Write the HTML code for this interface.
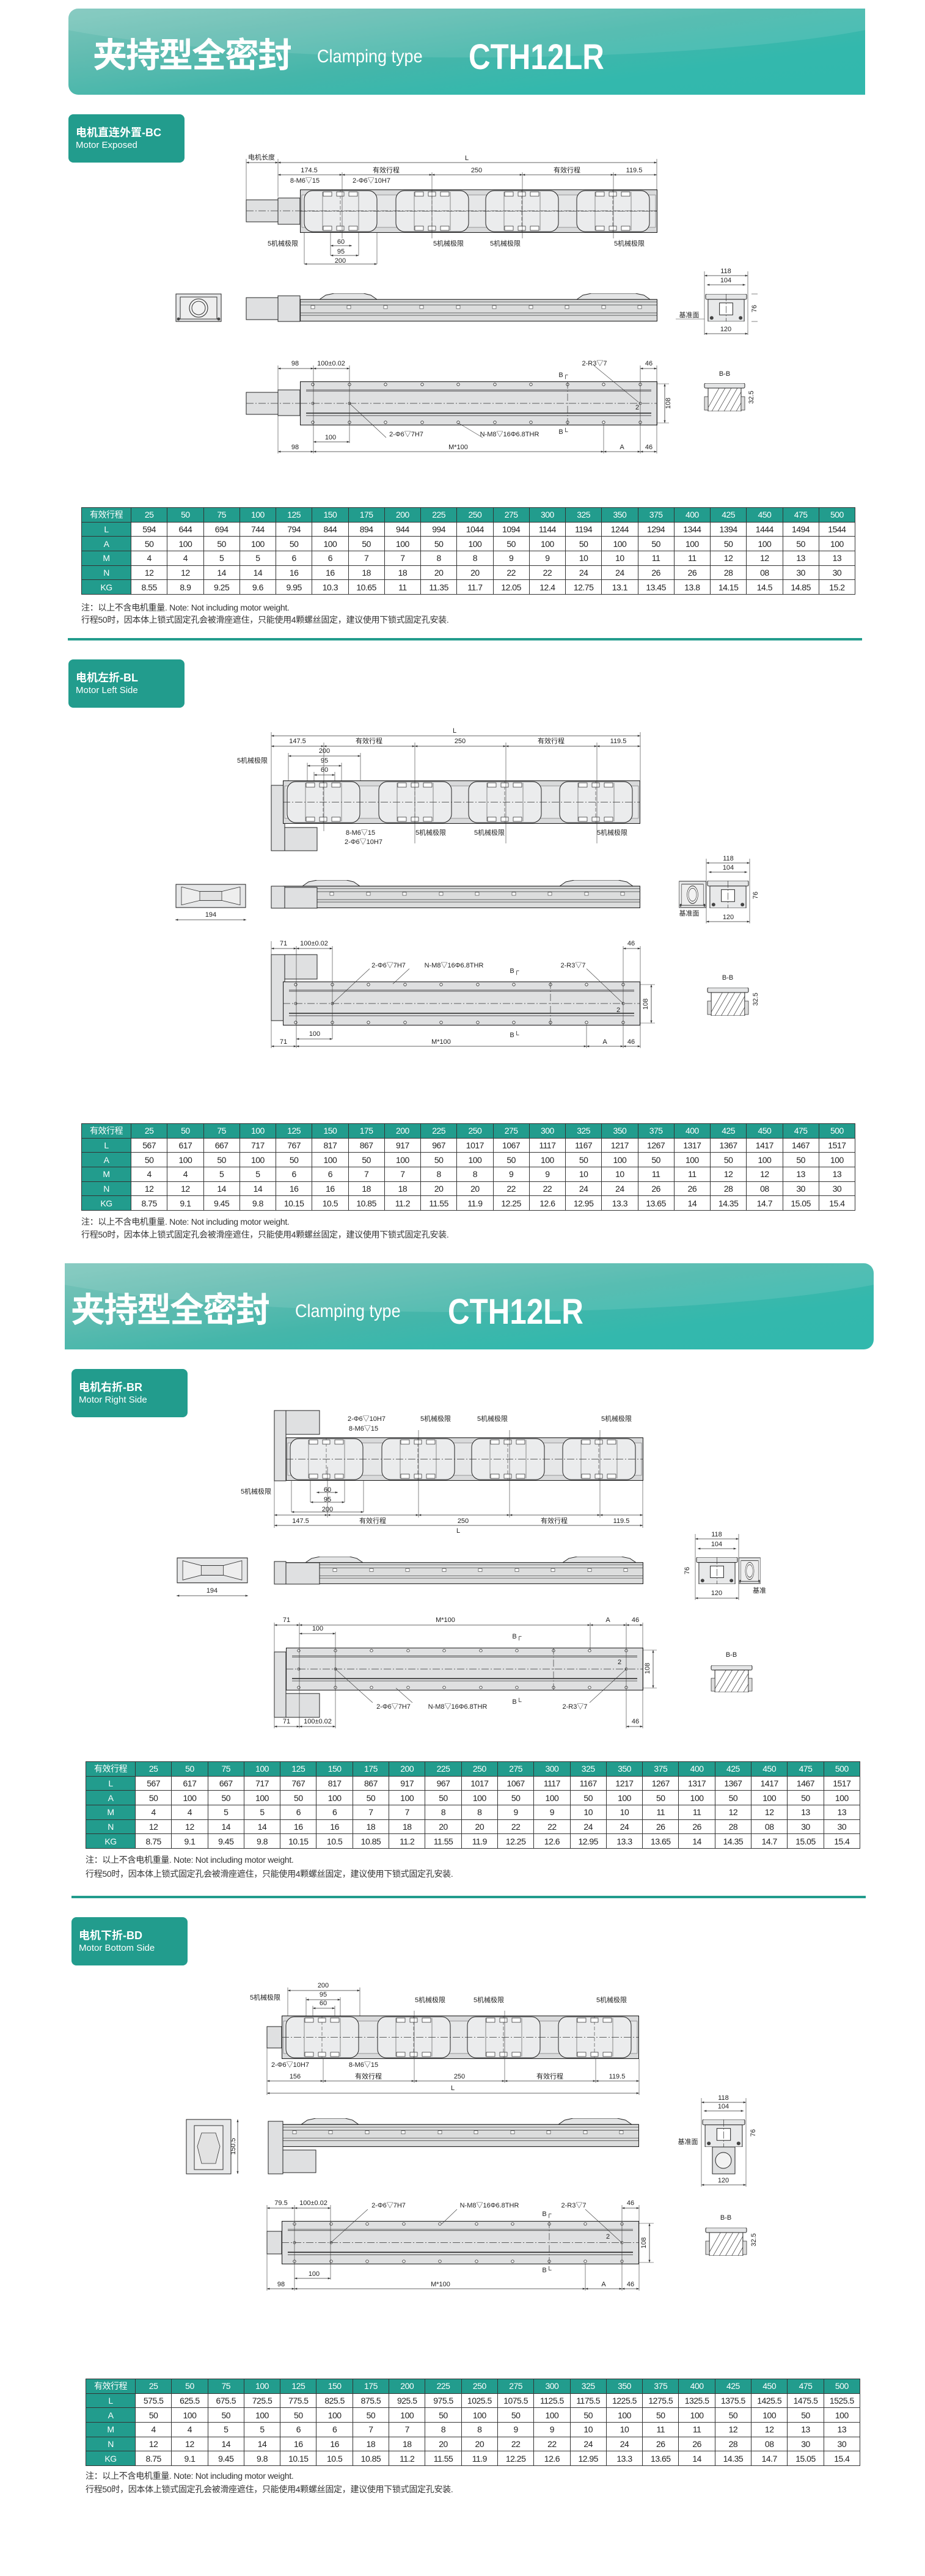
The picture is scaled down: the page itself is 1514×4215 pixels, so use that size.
<!DOCTYPE html>
<html><head><meta charset="utf-8">
<style>
*{margin:0;padding:0;box-sizing:border-box}
body{width:1514px;height:4215px;background:#fff;position:relative;overflow:hidden;font-family:"Liberation Sans","Noto Sans CJK SC",sans-serif}
.hdr{position:absolute;height:141px;background:linear-gradient(172deg,#7cc6bb 0%,#62bcb1 25%,#45b6aa 50%,#33b8ad 75%,#32b8ad 100%);overflow:hidden}
.hdr .wave{position:absolute;left:-10%;top:-120px;width:120%;height:200px;border-radius:50%;background:rgba(255,255,255,.10)}
.hdr .cn{position:absolute;top:38px;font:bold 56px "Noto Sans CJK SC",sans-serif;color:#fff;letter-spacing:-2px;line-height:70px}
.hdr .en{position:absolute;top:62px;font:30px "Liberation Sans",sans-serif;color:#fff;transform:scaleX(.9);transform-origin:left}
.hdr .md{position:absolute;top:46px;font:bold 58px "Liberation Sans",sans-serif;color:#fff;transform:scaleX(.85);transform-origin:left}
.lab{position:absolute;width:190px;height:79px;background:#229c8d;border-radius:8px;color:#fff}
.lab .a{position:absolute;left:12px;top:16px;font:bold 18px "Liberation Sans","Noto Sans CJK SC",sans-serif}
.lab .b{position:absolute;left:12px;top:42px;font:15px "Liberation Sans",sans-serif}
table{position:absolute;border-collapse:collapse;table-layout:fixed}
td{border:1px solid #333;text-align:center;font:14px "Liberation Sans","Noto Sans CJK SC",sans-serif;color:#222;height:23.7px;padding:0;letter-spacing:-.5px}
td.h{background:#229c8d;color:#fff}
tr:first-child td{background:#229c8d;color:#fff}
.note{position:absolute;font:14px "Liberation Sans","Noto Sans CJK SC",sans-serif;color:#333;white-space:nowrap;letter-spacing:-.3px}
.bar{position:absolute;height:4px;background:#229c8d}
svg{position:absolute;left:0;top:0}
.d{stroke:#333;stroke-width:.8;fill:none}
.e{stroke:#333;stroke-width:.6;fill:none}
.t{font:11px "Liberation Sans","Noto Sans CJK SC",sans-serif;fill:#222;text-anchor:middle}
.s{fill:#dfe0e1;stroke:#222;stroke-width:1}
.cl{stroke:#333;stroke-width:.7;stroke-dasharray:12 3 2 3;fill:none}
</style></head><body>

<div class="hdr" style="left:112px;top:14px;width:1304px;border-radius:16px 0 0 16px"><div class="wave"></div>
<div class="cn" style="left:40px">夹持型全密封</div><div class="en" style="left:407px">Clamping type</div><div class="md" style="left:655px">CTH12LR</div></div>

<div class="lab" style="left:112px;top:187px"><div class="a">电机直连外置-BC</div><div class="b">Motor Exposed</div></div>
<div class="lab" style="left:112px;top:1079px"><div class="a">电机左折-BL</div><div class="b">Motor Left Side</div></div>

<div class="hdr" style="left:106px;top:2067px;width:1324px;border-radius:0 16px 16px 0"><div class="wave"></div>
<div class="cn" style="left:10px">夹持型全密封</div><div class="en" style="left:377px">Clamping type</div><div class="md" style="left:627px">CTH12LR</div></div>

<div class="lab" style="left:117px;top:2240px"><div class="a">电机右折-BR</div><div class="b">Motor Right Side</div></div>
<div class="lab" style="left:117px;top:3137px"><div class="a">电机下折-BD</div><div class="b">Motor Bottom Side</div></div>

<div class="bar" style="left:111px;top:1044px;width:1300px"></div>
<div class="bar" style="left:117px;top:3102px;width:1300px"></div>

<!-- TABLES -->
<table style="left:133px;top:830px;width:1267px"><colgroup><col style="width:81px"><col span="20"></colgroup>
<tr><td>有效行程</td><td>25</td><td>50</td><td>75</td><td>100</td><td>125</td><td>150</td><td>175</td><td>200</td><td>225</td><td>250</td><td>275</td><td>300</td><td>325</td><td>350</td><td>375</td><td>400</td><td>425</td><td>450</td><td>475</td><td>500</td></tr>
<tr><td class="h">L</td><td>594</td><td>644</td><td>694</td><td>744</td><td>794</td><td>844</td><td>894</td><td>944</td><td>994</td><td>1044</td><td>1094</td><td>1144</td><td>1194</td><td>1244</td><td>1294</td><td>1344</td><td>1394</td><td>1444</td><td>1494</td><td>1544</td></tr>
<tr><td class="h">A</td><td>50</td><td>100</td><td>50</td><td>100</td><td>50</td><td>100</td><td>50</td><td>100</td><td>50</td><td>100</td><td>50</td><td>100</td><td>50</td><td>100</td><td>50</td><td>100</td><td>50</td><td>100</td><td>50</td><td>100</td></tr>
<tr><td class="h">M</td><td>4</td><td>4</td><td>5</td><td>5</td><td>6</td><td>6</td><td>7</td><td>7</td><td>8</td><td>8</td><td>9</td><td>9</td><td>10</td><td>10</td><td>11</td><td>11</td><td>12</td><td>12</td><td>13</td><td>13</td></tr>
<tr><td class="h">N</td><td>12</td><td>12</td><td>14</td><td>14</td><td>16</td><td>16</td><td>18</td><td>18</td><td>20</td><td>20</td><td>22</td><td>22</td><td>24</td><td>24</td><td>26</td><td>26</td><td>28</td><td>08</td><td>30</td><td>30</td></tr>
<tr><td class="h">KG</td><td>8.55</td><td>8.9</td><td>9.25</td><td>9.6</td><td>9.95</td><td>10.3</td><td>10.65</td><td>11</td><td>11.35</td><td>11.7</td><td>12.05</td><td>12.4</td><td>12.75</td><td>13.1</td><td>13.45</td><td>13.8</td><td>14.15</td><td>14.5</td><td>14.85</td><td>15.2</td></tr>
</table>
<div class="note" style="left:133px;top:984px">注：以上不含电机重量. Note: Not including motor weight.</div>
<div class="note" style="left:133px;top:1004px">行程50时，因本体上锁式固定孔会被滑座遮住，只能使用4颗螺丝固定，建议使用下锁式固定孔安装.</div>

<table style="left:133px;top:1838px;width:1267px"><colgroup><col style="width:81px"><col span="20"></colgroup>
<tr><td>有效行程</td><td>25</td><td>50</td><td>75</td><td>100</td><td>125</td><td>150</td><td>175</td><td>200</td><td>225</td><td>250</td><td>275</td><td>300</td><td>325</td><td>350</td><td>375</td><td>400</td><td>425</td><td>450</td><td>475</td><td>500</td></tr>
<tr><td class="h">L</td><td>567</td><td>617</td><td>667</td><td>717</td><td>767</td><td>817</td><td>867</td><td>917</td><td>967</td><td>1017</td><td>1067</td><td>1117</td><td>1167</td><td>1217</td><td>1267</td><td>1317</td><td>1367</td><td>1417</td><td>1467</td><td>1517</td></tr>
<tr><td class="h">A</td><td>50</td><td>100</td><td>50</td><td>100</td><td>50</td><td>100</td><td>50</td><td>100</td><td>50</td><td>100</td><td>50</td><td>100</td><td>50</td><td>100</td><td>50</td><td>100</td><td>50</td><td>100</td><td>50</td><td>100</td></tr>
<tr><td class="h">M</td><td>4</td><td>4</td><td>5</td><td>5</td><td>6</td><td>6</td><td>7</td><td>7</td><td>8</td><td>8</td><td>9</td><td>9</td><td>10</td><td>10</td><td>11</td><td>11</td><td>12</td><td>12</td><td>13</td><td>13</td></tr>
<tr><td class="h">N</td><td>12</td><td>12</td><td>14</td><td>14</td><td>16</td><td>16</td><td>18</td><td>18</td><td>20</td><td>20</td><td>22</td><td>22</td><td>24</td><td>24</td><td>26</td><td>26</td><td>28</td><td>08</td><td>30</td><td>30</td></tr>
<tr><td class="h">KG</td><td>8.75</td><td>9.1</td><td>9.45</td><td>9.8</td><td>10.15</td><td>10.5</td><td>10.85</td><td>11.2</td><td>11.55</td><td>11.9</td><td>12.25</td><td>12.6</td><td>12.95</td><td>13.3</td><td>13.65</td><td>14</td><td>14.35</td><td>14.7</td><td>15.05</td><td>15.4</td></tr>
</table>
<div class="note" style="left:133px;top:1989px">注：以上不含电机重量. Note: Not including motor weight.</div>
<div class="note" style="left:133px;top:2010px">行程50时，因本体上锁式固定孔会被滑座遮住，只能使用4颗螺丝固定，建议使用下锁式固定孔安装.</div>

<table style="left:140px;top:2882px;width:1268px"><colgroup><col style="width:81px"><col span="20"></colgroup>
<tr><td>有效行程</td><td>25</td><td>50</td><td>75</td><td>100</td><td>125</td><td>150</td><td>175</td><td>200</td><td>225</td><td>250</td><td>275</td><td>300</td><td>325</td><td>350</td><td>375</td><td>400</td><td>425</td><td>450</td><td>475</td><td>500</td></tr>
<tr><td class="h">L</td><td>567</td><td>617</td><td>667</td><td>717</td><td>767</td><td>817</td><td>867</td><td>917</td><td>967</td><td>1017</td><td>1067</td><td>1117</td><td>1167</td><td>1217</td><td>1267</td><td>1317</td><td>1367</td><td>1417</td><td>1467</td><td>1517</td></tr>
<tr><td class="h">A</td><td>50</td><td>100</td><td>50</td><td>100</td><td>50</td><td>100</td><td>50</td><td>100</td><td>50</td><td>100</td><td>50</td><td>100</td><td>50</td><td>100</td><td>50</td><td>100</td><td>50</td><td>100</td><td>50</td><td>100</td></tr>
<tr><td class="h">M</td><td>4</td><td>4</td><td>5</td><td>5</td><td>6</td><td>6</td><td>7</td><td>7</td><td>8</td><td>8</td><td>9</td><td>9</td><td>10</td><td>10</td><td>11</td><td>11</td><td>12</td><td>12</td><td>13</td><td>13</td></tr>
<tr><td class="h">N</td><td>12</td><td>12</td><td>14</td><td>14</td><td>16</td><td>16</td><td>18</td><td>18</td><td>20</td><td>20</td><td>22</td><td>22</td><td>24</td><td>24</td><td>26</td><td>26</td><td>28</td><td>08</td><td>30</td><td>30</td></tr>
<tr><td class="h">KG</td><td>8.75</td><td>9.1</td><td>9.45</td><td>9.8</td><td>10.15</td><td>10.5</td><td>10.85</td><td>11.2</td><td>11.55</td><td>11.9</td><td>12.25</td><td>12.6</td><td>12.95</td><td>13.3</td><td>13.65</td><td>14</td><td>14.35</td><td>14.7</td><td>15.05</td><td>15.4</td></tr>
</table>
<div class="note" style="left:140px;top:3033px">注：以上不含电机重量. Note: Not including motor weight.</div>
<div class="note" style="left:140px;top:3056px">行程50时，因本体上锁式固定孔会被滑座遮住，只能使用4颗螺丝固定，建议使用下锁式固定孔安装.</div>

<table style="left:140px;top:3892px;width:1268px"><colgroup><col style="width:81px"><col span="20"></colgroup>
<tr><td>有效行程</td><td>25</td><td>50</td><td>75</td><td>100</td><td>125</td><td>150</td><td>175</td><td>200</td><td>225</td><td>250</td><td>275</td><td>300</td><td>325</td><td>350</td><td>375</td><td>400</td><td>425</td><td>450</td><td>475</td><td>500</td></tr>
<tr><td class="h">L</td><td>575.5</td><td>625.5</td><td>675.5</td><td>725.5</td><td>775.5</td><td>825.5</td><td>875.5</td><td>925.5</td><td>975.5</td><td>1025.5</td><td>1075.5</td><td>1125.5</td><td>1175.5</td><td>1225.5</td><td>1275.5</td><td>1325.5</td><td>1375.5</td><td>1425.5</td><td>1475.5</td><td>1525.5</td></tr>
<tr><td class="h">A</td><td>50</td><td>100</td><td>50</td><td>100</td><td>50</td><td>100</td><td>50</td><td>100</td><td>50</td><td>100</td><td>50</td><td>100</td><td>50</td><td>100</td><td>50</td><td>100</td><td>50</td><td>100</td><td>50</td><td>100</td></tr>
<tr><td class="h">M</td><td>4</td><td>4</td><td>5</td><td>5</td><td>6</td><td>6</td><td>7</td><td>7</td><td>8</td><td>8</td><td>9</td><td>9</td><td>10</td><td>10</td><td>11</td><td>11</td><td>12</td><td>12</td><td>13</td><td>13</td></tr>
<tr><td class="h">N</td><td>12</td><td>12</td><td>14</td><td>14</td><td>16</td><td>16</td><td>18</td><td>18</td><td>20</td><td>20</td><td>22</td><td>22</td><td>24</td><td>24</td><td>26</td><td>26</td><td>28</td><td>08</td><td>30</td><td>30</td></tr>
<tr><td class="h">KG</td><td>8.75</td><td>9.1</td><td>9.45</td><td>9.8</td><td>10.15</td><td>10.5</td><td>10.85</td><td>11.2</td><td>11.55</td><td>11.9</td><td>12.25</td><td>12.6</td><td>12.95</td><td>13.3</td><td>13.65</td><td>14</td><td>14.35</td><td>14.7</td><td>15.05</td><td>15.4</td></tr>
</table>
<div class="note" style="left:140px;top:4041px">注：以上不含电机重量. Note: Not including motor weight.</div>
<div class="note" style="left:140px;top:4063px">行程50时，因本体上锁式固定孔会被滑座遮住，只能使用4颗螺丝固定，建议使用下锁式固定孔安装.</div>

<svg width="1514" height="4215" viewBox="0 0 1514 4215">
<defs>
<marker id="ar" viewBox="0 0 8 6" refX="8" refY="3" markerWidth="6" markerHeight="4" orient="auto-start-reverse"><path d="M0,0L8,3L0,6z" fill="#333"/></marker>
<symbol id="top" viewBox="0 0 585 71" preserveAspectRatio="none">
<rect x=".5" y=".5" width="584" height="70" fill="#d9dadb" stroke="#222" stroke-width="1.2"/>
<rect x="3" y="9" width="579" height="53" fill="#e6e7e8" stroke="#666" stroke-width=".6"/>
<g fill="#ebeced" stroke="#222" stroke-width="1">
<rect x="7" y="2" width="119" height="67" rx="14"/><rect x="157" y="2" width="119" height="67" rx="14"/><rect x="304" y="2" width="119" height="67" rx="14"/><rect x="453" y="2" width="119" height="67" rx="14"/></g>
<g stroke="#333" stroke-width=".6" stroke-dasharray="6 3">
<line x1="66" y1="0" x2="66" y2="71"/><line x1="216" y1="0" x2="216" y2="71"/><line x1="363" y1="0" x2="363" y2="71"/><line x1="512" y1="0" x2="512" y2="71"/></g>
<g stroke="#444" stroke-width=".6">
<line x1="37" y1="4" x2="37" y2="67"/><line x1="96" y1="4" x2="96" y2="67"/><line x1="187" y1="4" x2="187" y2="67"/><line x1="246" y1="4" x2="246" y2="67"/><line x1="334" y1="4" x2="334" y2="67"/><line x1="393" y1="4" x2="393" y2="67"/><line x1="483" y1="4" x2="483" y2="67"/><line x1="542" y1="4" x2="542" y2="67"/></g>
<g fill="#fff" stroke="#222" stroke-width=".7">
<rect x="38" y="4" width="14" height="7"/><rect x="60" y="4" width="12" height="7"/><rect x="80" y="4" width="14" height="7"/><rect x="38" y="60" width="14" height="7"/><rect x="60" y="60" width="12" height="7"/><rect x="80" y="60" width="14" height="7"/>
<rect x="188" y="4" width="14" height="7"/><rect x="210" y="4" width="12" height="7"/><rect x="230" y="4" width="14" height="7"/><rect x="188" y="60" width="14" height="7"/><rect x="210" y="60" width="12" height="7"/><rect x="230" y="60" width="14" height="7"/>
<rect x="335" y="4" width="14" height="7"/><rect x="357" y="4" width="12" height="7"/><rect x="377" y="4" width="14" height="7"/><rect x="335" y="60" width="14" height="7"/><rect x="357" y="60" width="12" height="7"/><rect x="377" y="60" width="14" height="7"/>
<rect x="484" y="4" width="14" height="7"/><rect x="506" y="4" width="12" height="7"/><rect x="526" y="4" width="14" height="7"/><rect x="484" y="60" width="14" height="7"/><rect x="506" y="60" width="12" height="7"/><rect x="526" y="60" width="14" height="7"/></g>
<line x1="0" y1="35.5" x2="585" y2="35.5" class="cl"/>
</symbol>
<symbol id="side" viewBox="0 0 585 46" preserveAspectRatio="none">
<polygon points="32,10 42,3 56,0 104,0 116,3 126,10" fill="#e4e5e6" stroke="#222"/>
<polygon points="453,10 463,3 477,0 549,0 563,3 573,10" fill="#e4e5e6" stroke="#222"/>
<rect x=".5" y="10" width="584" height="35.5" fill="#dcdddd" stroke="#222" stroke-width="1.2"/>
<g stroke="#333" stroke-width=".7"><line x1="0" y1="14" x2="585" y2="14"/><line x1="0" y1="19" x2="585" y2="19"/><line x1="0" y1="32" x2="585" y2="32"/><line x1="0" y1="36" x2="585" y2="36"/></g>
<g fill="#fff" stroke="#333" stroke-width=".6"><rect x="18" y="20" width="6" height="5"/><rect x="77" y="20" width="6" height="5"/><rect x="137" y="20" width="6" height="5"/><rect x="196" y="20" width="6" height="5"/><rect x="256" y="20" width="6" height="5"/><rect x="315" y="20" width="6" height="5"/><rect x="375" y="20" width="6" height="5"/><rect x="434" y="20" width="6" height="5"/><rect x="494" y="20" width="6" height="5"/><rect x="553" y="20" width="6" height="5"/></g>
</symbol>
<symbol id="bot" viewBox="0 0 585 72" preserveAspectRatio="none">
<rect x=".5" y=".5" width="584" height="71" fill="#dfe0e1" stroke="#222" stroke-width="1.2"/>
<g stroke="#222"><line x1="10" y1="14" x2="575" y2="14" stroke-width=".7"/><line x1="10" y1="16" x2="575" y2="16" stroke-width=".7"/><line x1="10" y1="52" x2="575" y2="52" stroke-width="1.6"/><line x1="10" y1="56" x2="575" y2="56" stroke-width=".7"/></g>
<g fill="#fff" stroke="#222" stroke-width=".8">
<circle cx="21" cy="5" r="2.2"/><circle cx="81" cy="5" r="2.2"/><circle cx="140" cy="5" r="2.2"/><circle cx="200" cy="5" r="2.2"/><circle cx="259" cy="5" r="2.2"/><circle cx="319" cy="5" r="2.2"/><circle cx="378" cy="5" r="2.2"/><circle cx="438" cy="5" r="2.2"/><circle cx="497" cy="5" r="2.2"/><circle cx="557" cy="5" r="2.2"/>
<circle cx="21" cy="67" r="2.2"/><circle cx="81" cy="67" r="2.2"/><circle cx="140" cy="67" r="2.2"/><circle cx="200" cy="67" r="2.2"/><circle cx="259" cy="67" r="2.2"/><circle cx="319" cy="67" r="2.2"/><circle cx="378" cy="67" r="2.2"/><circle cx="438" cy="67" r="2.2"/><circle cx="497" cy="67" r="2.2"/><circle cx="557" cy="67" r="2.2"/>
<circle cx="21" cy="36" r="2"/><circle cx="81" cy="36" r="2"/><circle cx="557" cy="36" r="2"/></g>
<line x1="0" y1="36" x2="585" y2="36" class="cl"/>
<line x1="438" y1="0" x2="438" y2="72" class="cl"/>
</symbol>
<symbol id="bb" viewBox="0 0 70 46" preserveAspectRatio="none">
<rect x="2" y="0" width="66" height="8" rx="2" fill="#e4e5e6" stroke="#222"/>
<rect x="8" y="8" width="54" height="38" fill="#fff" stroke="#222"/>
<g stroke="#333" stroke-width=".7"><line x1="8" y1="40" x2="26" y2="8"/><line x1="14" y1="46" x2="36" y2="8"/><line x1="24" y1="46" x2="46" y2="8"/><line x1="34" y1="46" x2="56" y2="8"/><line x1="44" y1="46" x2="62" y2="14"/><line x1="54" y1="46" x2="62" y2="32"/></g>
<rect x="2" y="22" width="6" height="22" fill="#ddd" stroke="#222" stroke-width=".7"/><rect x="62" y="22" width="6" height="22" fill="#ddd" stroke="#222" stroke-width=".7"/>
</symbol>
<symbol id="endv" viewBox="0 0 72 46" preserveAspectRatio="none">
<rect x="2" y="0" width="68" height="9" rx="2" fill="#e4e5e6" stroke="#222"/>
<rect x="6" y="9" width="60" height="37" fill="#e8e9ea" stroke="#222"/>
<rect x="25" y="15" width="22" height="20" fill="#fff" stroke="#222"/>
<line x1="36" y1="0" x2="36" y2="46" class="cl"/>
<circle cx="12" cy="40" r="3" fill="#444"/><circle cx="60" cy="40" r="3" fill="#444"/>
</symbol>
<symbol id="mend" viewBox="0 0 76 47" preserveAspectRatio="none">
<rect x="1" y="1" width="74" height="45" fill="#e6e7e8" stroke="#222"/>
<rect x="8" y="6" width="60" height="36" fill="#eee" stroke="#333"/>
<circle cx="38" cy="24" r="15" fill="#f2f2f2" stroke="#222"/><circle cx="38" cy="24" r="11" fill="none" stroke="#333"/>
<circle cx="5" cy="42" r="2.5" fill="#444"/><circle cx="71" cy="42" r="2.5" fill="#444"/>
</symbol>
<symbol id="fold" viewBox="0 0 116 38" preserveAspectRatio="none">
<rect x="1" y="1" width="114" height="36" fill="#e6e7e8" stroke="#222"/>
<polygon points="10,5 40,12 76,12 106,5 106,33 76,26 40,26 10,33" fill="#eee" stroke="#333" stroke-width=".8"/>
<rect x="40" y="12" width="36" height="14" fill="#e2e2e2" stroke="#333" stroke-width=".8"/>
</symbol>
</defs>

<!-- ================= BC ================= -->
<g>
<rect x="403" y="327" width="52" height="36" class="s"/><rect x="455" y="324" width="36" height="43" class="s"/>
<use href="#top" x="491" y="310" width="585" height="71"/>
<line x1="403" y1="345" x2="1075" y2="345" class="cl"/>
<g class="e"><line x1="403" y1="260" x2="403" y2="330"/><line x1="455" y1="260" x2="455" y2="322"/><line x1="1075" y1="260" x2="1075" y2="310"/>
<line x1="560" y1="282" x2="560" y2="390"/><line x1="707" y1="282" x2="707" y2="390"/><line x1="855" y1="282" x2="855" y2="390"/><line x1="1004" y1="282" x2="1004" y2="390"/>
<line x1="498" y1="381" x2="498" y2="432"/><line x1="617" y1="381" x2="617" y2="432"/><line x1="541" y1="381" x2="541" y2="418"/><line x1="587" y1="381" x2="587" y2="418"/></g>
<g class="d" marker-start="url(#ar)" marker-end="url(#ar)">
<line x1="403" y1="266" x2="455" y2="266"/><line x1="455" y1="266" x2="1075" y2="266"/>
<line x1="455" y1="286" x2="560" y2="286"/><line x1="560" y1="286" x2="707" y2="286"/><line x1="707" y1="286" x2="855" y2="286"/><line x1="855" y1="286" x2="1004" y2="286"/><line x1="1004" y1="286" x2="1075" y2="286"/>
<line x1="541" y1="402" x2="576" y2="402"/><line x1="541" y1="418" x2="587" y2="418"/><line x1="498" y1="432" x2="617" y2="432"/></g>
<text class="t" x="428" y="261">电机长度</text><text class="t" x="764" y="262">L</text>
<text class="t" x="506" y="282">174.5</text><text class="t" x="632" y="282">有效行程</text><text class="t" x="780" y="282">250</text><text class="t" x="928" y="282">有效行程</text><text class="t" x="1038" y="282">119.5</text>
<text class="t" x="499" y="299">8-M6▽15</text><text class="t" x="608" y="299">2-Φ6▽10H7</text>
<text class="t" x="463" y="402">5机械极限</text><text class="t" x="734" y="402">5机械极限</text><text class="t" x="827" y="402">5机械极限</text><text class="t" x="1030" y="402">5机械极限</text>
<text class="t" x="558" y="399">60</text><text class="t" x="558" y="415">95</text><text class="t" x="557" y="430">200</text>
<!-- side -->
<use href="#mend" x="287" y="480" width="76" height="47"/>
<rect x="403" y="487" width="52" height="36" class="s"/><rect x="455" y="484" width="36" height="42" class="s"/>
<use href="#side" x="491" y="480" width="585" height="46"/>
<use href="#endv" x="1153" y="481" width="71" height="45"/>
<g class="d" marker-start="url(#ar)" marker-end="url(#ar)"><line x1="1153" y1="451" x2="1224" y2="451"/><line x1="1157" y1="466" x2="1220" y2="466"/><line x1="1153" y1="546" x2="1224" y2="546"/></g>
<g class="e"><line x1="1153" y1="444" x2="1153" y2="548"/><line x1="1224" y1="444" x2="1224" y2="548"/><line x1="1230" y1="481" x2="1240" y2="481"/><line x1="1230" y1="526" x2="1240" y2="526"/><line x1="1106" y1="522" x2="1153" y2="522"/></g>
<text class="t" x="1188" y="447">118</text><text class="t" x="1188" y="462">104</text><text class="t" x="1188" y="542">120</text><text class="t" x="1128" y="519">基准面</text>
<text class="t" transform="translate(1238,505) rotate(-90)">76</text>
<!-- bottom -->
<rect x="403" y="642" width="52" height="36" class="s"/><rect x="455" y="638" width="36" height="42" class="s"/>
<use href="#bot" x="491" y="624" width="585" height="72"/>
<line x1="403" y1="660" x2="491" y2="660" class="cl"/>
<g class="e"><line x1="455" y1="598" x2="455" y2="742"/><line x1="513" y1="598" x2="513" y2="742"/><line x1="572" y1="598" x2="572" y2="725"/><line x1="1075" y1="598" x2="1075" y2="742"/><line x1="1048" y1="598" x2="1048" y2="742"/><line x1="988" y1="696" x2="988" y2="742"/>
<line x1="1075" y1="628" x2="1095" y2="628"/><line x1="1075" y1="692" x2="1095" y2="692"/>
<line x1="972" y1="598" x2="1045" y2="658"/><line x1="572" y1="660" x2="632" y2="716"/><line x1="750" y1="692" x2="790" y2="716"/></g>
<g class="d" marker-start="url(#ar)" marker-end="url(#ar)">
<line x1="455" y1="603" x2="513" y2="603"/><line x1="513" y1="603" x2="572" y2="603"/><line x1="1048" y1="603" x2="1075" y2="603"/>
<line x1="1088" y1="628" x2="1088" y2="692"/><line x1="513" y1="723" x2="572" y2="723"/>
<line x1="455" y1="739" x2="513" y2="739"/><line x1="513" y1="739" x2="988" y2="739"/><line x1="988" y1="739" x2="1048" y2="739"/><line x1="1048" y1="739" x2="1075" y2="739"/></g>
<text class="t" x="483" y="598">98</text><text class="t" x="542" y="598">100±0.02</text><text class="t" x="973" y="598">2-R3▽7</text><text class="t" x="1062" y="598">46</text>
<text class="t" x="922" y="617">B┌</text><text class="t" x="922" y="710">B└</text><text class="t" x="1043" y="670">2</text>
<text class="t" transform="translate(1097,660) rotate(-90)">108</text>
<text class="t" x="665" y="714">2-Φ6▽7H7</text><text class="t" x="834" y="714">N-M8▽16Φ6.8THR</text>
<text class="t" x="541" y="719">100</text>
<text class="t" x="483" y="735">98</text><text class="t" x="750" y="735">M*100</text><text class="t" x="1018" y="735">A</text><text class="t" x="1062" y="735">46</text>
<use href="#bb" x="1151" y="627" width="70" height="46"/><text class="t" x="1186" y="615">B-B</text>
<text class="t" transform="translate(1233,650) rotate(-90)">32.5</text>
</g>

<!-- ================= BL ================= -->
<g>
<rect x="444" y="1285" width="22" height="107" class="s"/><rect x="466" y="1354" width="53" height="38" class="s"/>
<use href="#top" x="463" y="1277" width="585" height="71"/>
<g class="e"><line x1="444" y1="1198" x2="444" y2="1285"/><line x1="1048" y1="1198" x2="1048" y2="1277"/>
<line x1="530" y1="1215" x2="530" y2="1360"/><line x1="679" y1="1215" x2="679" y2="1380"/><line x1="828" y1="1215" x2="828" y2="1380"/><line x1="977" y1="1215" x2="977" y2="1380"/>
<line x1="472" y1="1232" x2="472" y2="1277"/><line x1="590" y1="1232" x2="590" y2="1277"/><line x1="503" y1="1248" x2="503" y2="1277"/><line x1="559" y1="1248" x2="559" y2="1277"/><line x1="514" y1="1263" x2="514" y2="1277"/><line x1="548" y1="1263" x2="548" y2="1277"/></g>
<g class="d" marker-start="url(#ar)" marker-end="url(#ar)">
<line x1="444" y1="1204" x2="1048" y2="1204"/>
<line x1="444" y1="1221" x2="530" y2="1221"/><line x1="530" y1="1221" x2="679" y2="1221"/><line x1="679" y1="1221" x2="828" y2="1221"/><line x1="828" y1="1221" x2="977" y2="1221"/><line x1="977" y1="1221" x2="1048" y2="1221"/>
<line x1="472" y1="1237" x2="590" y2="1237"/><line x1="503" y1="1253" x2="559" y2="1253"/><line x1="514" y1="1268" x2="548" y2="1268"/></g>
<text class="t" x="744" y="1199">L</text>
<text class="t" x="487" y="1216">147.5</text><text class="t" x="604" y="1216">有效行程</text><text class="t" x="753" y="1216">250</text><text class="t" x="902" y="1216">有效行程</text><text class="t" x="1012" y="1216">119.5</text>
<text class="t" x="531" y="1232">200</text><text class="t" x="531" y="1248">95</text><text class="t" x="531" y="1263">60</text>
<text class="t" x="413" y="1248">5机械极限</text>
<text class="t" x="705" y="1366">5机械极限</text><text class="t" x="801" y="1366">5机械极限</text><text class="t" x="1002" y="1366">5机械极限</text>
<text class="t" x="590" y="1366">8-M6▽15</text><text class="t" x="595" y="1381">2-Φ6▽10H7</text>
<!-- side -->
<use href="#fold" x="287" y="1446" width="116" height="40"/>
<g class="d" marker-start="url(#ar)" marker-end="url(#ar)"><line x1="287" y1="1505" x2="403" y2="1505"/></g>
<text class="t" x="345" y="1500">194</text>
<use href="#side" x="463" y="1440" width="585" height="46"/>
<rect x="444" y="1450" width="22" height="36" class="s"/><rect x="466" y="1452" width="53" height="34" class="s"/>
<use href="#mend" x="1111" y="1441" width="45" height="45"/>
<use href="#endv" x="1156" y="1441" width="71" height="45"/>
<g class="d" marker-start="url(#ar)" marker-end="url(#ar)"><line x1="1156" y1="1412" x2="1227" y2="1412"/><line x1="1160" y1="1427" x2="1223" y2="1427"/><line x1="1156" y1="1508" x2="1227" y2="1508"/></g>
<g class="e"><line x1="1156" y1="1405" x2="1156" y2="1511"/><line x1="1227" y1="1405" x2="1227" y2="1511"/></g>
<text class="t" x="1192" y="1408">118</text><text class="t" x="1192" y="1423">104</text><text class="t" x="1192" y="1504">120</text><text class="t" x="1128" y="1498">基准面</text>
<text class="t" transform="translate(1240,1465) rotate(-90)">76</text>
<!-- bottom -->
<rect x="444" y="1562" width="22" height="108" class="s"/><rect x="466" y="1562" width="53" height="40" class="s"/>
<use href="#bot" x="463" y="1606" width="585" height="72"/>
<g class="e"><line x1="444" y1="1540" x2="444" y2="1715"/><line x1="485" y1="1548" x2="485" y2="1715"/><line x1="544" y1="1548" x2="544" y2="1700"/><line x1="1020" y1="1548" x2="1020" y2="1715"/><line x1="1048" y1="1548" x2="1048" y2="1715"/><line x1="960" y1="1678" x2="960" y2="1715"/>
<line x1="1048" y1="1611" x2="1072" y2="1611"/><line x1="1048" y1="1674" x2="1072" y2="1674"/>
<line x1="544" y1="1642" x2="605" y2="1585"/><line x1="643" y1="1610" x2="670" y2="1585"/><line x1="1020" y1="1642" x2="960" y2="1585"/></g>
<g class="d" marker-start="url(#ar)" marker-end="url(#ar)">
<line x1="444" y1="1552" x2="485" y2="1552"/><line x1="485" y1="1552" x2="544" y2="1552"/><line x1="1020" y1="1552" x2="1048" y2="1552"/>
<line x1="1066" y1="1611" x2="1066" y2="1674"/><line x1="485" y1="1700" x2="544" y2="1700"/>
<line x1="444" y1="1712" x2="485" y2="1712"/><line x1="485" y1="1712" x2="960" y2="1712"/><line x1="960" y1="1712" x2="1020" y2="1712"/><line x1="1020" y1="1712" x2="1048" y2="1712"/></g>
<text class="t" x="464" y="1547">71</text><text class="t" x="514" y="1547">100±0.02</text><text class="t" x="1033" y="1547">46</text>
<text class="t" x="636" y="1583">2-Φ6▽7H7</text><text class="t" x="743" y="1583">N-M8▽16Φ6.8THR</text><text class="t" x="938" y="1583">2-R3▽7</text>
<text class="t" x="842" y="1592">B┌</text><text class="t" x="842" y="1697">B└</text><text class="t" x="1012" y="1656">2</text>
<text class="t" transform="translate(1060,1643) rotate(-90)">108</text>
<text class="t" x="515" y="1695">100</text>
<text class="t" x="464" y="1708">71</text><text class="t" x="722" y="1708">M*100</text><text class="t" x="990" y="1708">A</text><text class="t" x="1033" y="1708">46</text>
<use href="#bb" x="1156" y="1616" width="71" height="46"/><text class="t" x="1191" y="1603">B-B</text>
<text class="t" transform="translate(1240,1635) rotate(-90)">32.5</text>
</g>

<!-- ================= BR ================= -->
<g>
<rect x="449" y="2308" width="19" height="115" class="s"/><rect x="468" y="2308" width="55" height="39" class="s"/>
<use href="#top" x="468" y="2352" width="585" height="71"/>
<g class="e"><line x1="449" y1="2423" x2="449" y2="2500"/><line x1="1052" y1="2423" x2="1052" y2="2500"/>
<line x1="536" y1="2400" x2="536" y2="2483"/><line x1="685" y1="2340" x2="685" y2="2483"/><line x1="834" y1="2340" x2="834" y2="2483"/><line x1="982" y1="2340" x2="982" y2="2483"/>
<line x1="477" y1="2423" x2="477" y2="2474"/><line x1="595" y1="2423" x2="595" y2="2474"/><line x1="508" y1="2423" x2="508" y2="2458"/><line x1="564" y1="2423" x2="564" y2="2458"/></g>
<g class="d" marker-start="url(#ar)" marker-end="url(#ar)">
<line x1="518" y1="2442" x2="553" y2="2442"/><line x1="508" y1="2458" x2="564" y2="2458"/><line x1="477" y1="2474" x2="595" y2="2474"/>
<line x1="449" y1="2479" x2="536" y2="2479"/><line x1="536" y1="2479" x2="685" y2="2479"/><line x1="685" y1="2479" x2="834" y2="2479"/><line x1="834" y1="2479" x2="982" y2="2479"/><line x1="982" y1="2479" x2="1052" y2="2479"/>
<line x1="449" y1="2496" x2="1052" y2="2496"/></g>
<text class="t" x="600" y="2325">2-Φ6▽10H7</text><text class="t" x="595" y="2341">8-M6▽15</text>
<text class="t" x="713" y="2325">5机械极限</text><text class="t" x="806" y="2325">5机械极限</text><text class="t" x="1009" y="2325">5机械极限</text>
<text class="t" x="419" y="2444">5机械极限</text>
<text class="t" x="536" y="2441">60</text><text class="t" x="536" y="2457">95</text><text class="t" x="536" y="2473">200</text>
<text class="t" x="492" y="2492">147.5</text><text class="t" x="610" y="2492">有效行程</text><text class="t" x="758" y="2492">250</text><text class="t" x="907" y="2492">有效行程</text><text class="t" x="1017" y="2492">119.5</text>
<text class="t" x="750" y="2508">L</text>
<!-- side -->
<use href="#fold" x="289" y="2548" width="117" height="43"/>
<g class="d" marker-start="url(#ar)" marker-end="url(#ar)"><line x1="289" y1="2611" x2="406" y2="2611"/></g>
<text class="t" x="347" y="2606">194</text>
<use href="#side" x="468" y="2547" width="585" height="45"/>
<rect x="449" y="2555" width="19" height="37" class="s"/><rect x="468" y="2557" width="55" height="35" class="s"/>
<use href="#endv" x="1138" y="2548" width="71" height="44"/>
<use href="#mend" x="1209" y="2548" width="36" height="44"/>
<g class="d" marker-start="url(#ar)" marker-end="url(#ar)"><line x1="1138" y1="2518" x2="1209" y2="2518"/><line x1="1142" y1="2534" x2="1205" y2="2534"/><line x1="1138" y1="2615" x2="1209" y2="2615"/></g>
<g class="e"><line x1="1138" y1="2510" x2="1138" y2="2618"/><line x1="1209" y1="2510" x2="1209" y2="2618"/></g>
<text class="t" x="1173" y="2514">118</text><text class="t" x="1173" y="2530">104</text><text class="t" x="1173" y="2610">120</text><text class="t" x="1243" y="2606">基准</text>
<text class="t" transform="translate(1128,2570) rotate(-90)">76</text>
<!-- bottom -->
<rect x="449" y="2703" width="19" height="107" class="s"/><rect x="468" y="2771" width="55" height="39" class="s"/>
<use href="#bot" x="468" y="2696" width="585" height="70"/>
<g class="e"><line x1="449" y1="2655" x2="449" y2="2828"/><line x1="490" y1="2655" x2="490" y2="2828"/><line x1="549" y1="2670" x2="549" y2="2828"/><line x1="966" y1="2655" x2="966" y2="2700"/><line x1="1025" y1="2655" x2="1025" y2="2828"/><line x1="1052" y1="2655" x2="1052" y2="2828"/>
<line x1="1052" y1="2700" x2="1075" y2="2700"/><line x1="1052" y1="2762" x2="1075" y2="2762"/>
<line x1="549" y1="2731" x2="610" y2="2786"/><line x1="648" y1="2762" x2="675" y2="2786"/><line x1="1025" y1="2731" x2="965" y2="2786"/></g>
<g class="d" marker-start="url(#ar)" marker-end="url(#ar)">
<line x1="449" y1="2659" x2="490" y2="2659"/><line x1="490" y1="2659" x2="966" y2="2659"/><line x1="966" y1="2659" x2="1025" y2="2659"/><line x1="1025" y1="2659" x2="1052" y2="2659"/>
<line x1="490" y1="2673" x2="549" y2="2673"/><line x1="1069" y1="2700" x2="1069" y2="2762"/>
<line x1="449" y1="2825" x2="490" y2="2825"/><line x1="490" y1="2825" x2="549" y2="2825"/><line x1="1025" y1="2825" x2="1052" y2="2825"/></g>
<text class="t" x="469" y="2654">71</text><text class="t" x="729" y="2654">M*100</text><text class="t" x="995" y="2654">A</text><text class="t" x="1040" y="2654">46</text>
<text class="t" x="520" y="2668">100</text><text class="t" x="846" y="2681">B┌</text><text class="t" x="846" y="2788">B└</text><text class="t" x="1014" y="2723">2</text>
<text class="t" transform="translate(1063,2730) rotate(-90)">108</text>
<text class="t" x="644" y="2796">2-Φ6▽7H7</text><text class="t" x="749" y="2796">N-M8▽16Φ6.8THR</text><text class="t" x="941" y="2796">2-R3▽7</text>
<text class="t" x="469" y="2820">71</text><text class="t" x="520" y="2820">100±0.02</text><text class="t" x="1040" y="2820">46</text>
<use href="#bb" x="1162" y="2725" width="71" height="44"/><text class="t" x="1197" y="2711">B-B</text>
</g>

<!-- ================= BD ================= -->
<g>
<rect x="437" y="3316" width="24" height="35" class="s"/>
<use href="#top" x="461" y="3298" width="585" height="71"/>
<g class="e"><line x1="437" y1="3351" x2="437" y2="3428"/><line x1="1046" y1="3369" x2="1046" y2="3428"/>
<line x1="529" y1="3369" x2="529" y2="3408"/><line x1="678" y1="3290" x2="678" y2="3408"/><line x1="826" y1="3290" x2="826" y2="3408"/><line x1="975" y1="3369" x2="975" y2="3408"/>
<line x1="471" y1="3252" x2="471" y2="3298"/><line x1="589" y1="3252" x2="589" y2="3298"/><line x1="501" y1="3268" x2="501" y2="3298"/><line x1="557" y1="3268" x2="557" y2="3298"/><line x1="512" y1="3282" x2="512" y2="3298"/><line x1="548" y1="3282" x2="548" y2="3298"/></g>
<g class="d" marker-start="url(#ar)" marker-end="url(#ar)">
<line x1="471" y1="3257" x2="589" y2="3257"/><line x1="501" y1="3272" x2="557" y2="3272"/><line x1="512" y1="3286" x2="548" y2="3286"/>
<line x1="437" y1="3405" x2="529" y2="3405"/><line x1="529" y1="3405" x2="678" y2="3405"/><line x1="678" y1="3405" x2="826" y2="3405"/><line x1="826" y1="3405" x2="975" y2="3405"/><line x1="975" y1="3405" x2="1046" y2="3405"/>
<line x1="437" y1="3425" x2="1046" y2="3425"/></g>
<text class="t" x="529" y="3252">200</text><text class="t" x="529" y="3267">95</text><text class="t" x="529" y="3281">60</text>
<text class="t" x="434" y="3272">5机械极限</text><text class="t" x="704" y="3276">5机械极限</text><text class="t" x="800" y="3276">5机械极限</text><text class="t" x="1001" y="3276">5机械极限</text>
<text class="t" x="475" y="3382">2-Φ6▽10H7</text><text class="t" x="595" y="3382">8-M6▽15</text>
<text class="t" x="483" y="3401">156</text><text class="t" x="603" y="3401">有效行程</text><text class="t" x="752" y="3401">250</text><text class="t" x="900" y="3401">有效行程</text><text class="t" x="1010" y="3401">119.5</text>
<text class="t" x="741" y="3420">L</text>
<!-- side -->
<g><rect x="305" y="3468" width="73" height="89" fill="#e6e7e8" stroke="#222"/><rect x="318" y="3478" width="47" height="72" fill="#eee" stroke="#333"/><polygon points="330,3490 353,3490 360,3512 353,3540 330,3540 323,3512" fill="#e2e2e2" stroke="#333" stroke-width=".8"/></g>
<g class="d" marker-start="url(#ar)" marker-end="url(#ar)"><line x1="389" y1="3468" x2="389" y2="3557"/></g>
<text class="t" transform="translate(385,3512) rotate(-90)">150.5</text>
<use href="#side" x="461" y="3466" width="585" height="47"/>
<rect x="439" y="3471" width="24" height="86" class="s"/><rect x="463" y="3518" width="54" height="37" class="s"/>
<use href="#endv" x="1148" y="3468" width="73" height="45"/>
<rect x="1166" y="3513" width="37" height="44" class="s"/><circle cx="1184" cy="3535" r="13" fill="#f2f2f2" stroke="#222"/>
<g class="d" marker-start="url(#ar)" marker-end="url(#ar)"><line x1="1148" y1="3440" x2="1221" y2="3440"/><line x1="1152" y1="3454" x2="1217" y2="3454"/><line x1="1148" y1="3575" x2="1221" y2="3575"/></g>
<g class="e"><line x1="1148" y1="3433" x2="1148" y2="3578"/><line x1="1221" y1="3433" x2="1221" y2="3578"/></g>
<text class="t" x="1184" y="3436">118</text><text class="t" x="1184" y="3450">104</text><text class="t" x="1184" y="3571">120</text><text class="t" x="1126" y="3508">基准面</text>
<text class="t" transform="translate(1236,3490) rotate(-90)">76</text>
<!-- bottom -->
<rect x="437" y="3651" width="24" height="37" class="s"/>
<use href="#bot" x="461" y="3634" width="585" height="71"/>
<g class="e"><line x1="437" y1="3608" x2="437" y2="3748"/><line x1="482" y1="3608" x2="482" y2="3748"/><line x1="541" y1="3608" x2="541" y2="3730"/><line x1="958" y1="3705" x2="958" y2="3748"/><line x1="1018" y1="3608" x2="1018" y2="3748"/><line x1="1046" y1="3608" x2="1046" y2="3748"/>
<line x1="1046" y1="3638" x2="1070" y2="3638"/><line x1="1046" y1="3702" x2="1070" y2="3702"/>
<line x1="541" y1="3670" x2="602" y2="3615"/><line x1="723" y1="3639" x2="748" y2="3615"/><line x1="1018" y1="3670" x2="958" y2="3615"/></g>
<g class="d" marker-start="url(#ar)" marker-end="url(#ar)">
<line x1="437" y1="3613" x2="482" y2="3613"/><line x1="482" y1="3613" x2="541" y2="3613"/><line x1="1018" y1="3613" x2="1046" y2="3613"/>
<line x1="1063" y1="3638" x2="1063" y2="3702"/><line x1="482" y1="3728" x2="541" y2="3728"/>
<line x1="437" y1="3745" x2="482" y2="3745"/><line x1="482" y1="3745" x2="958" y2="3745"/><line x1="958" y1="3745" x2="1018" y2="3745"/><line x1="1018" y1="3745" x2="1046" y2="3745"/></g>
<text class="t" x="460" y="3608">79.5</text><text class="t" x="513" y="3608">100±0.02</text><text class="t" x="636" y="3612">2-Φ6▽7H7</text><text class="t" x="801" y="3612">N-M8▽16Φ6.8THR</text><text class="t" x="939" y="3612">2-R3▽7</text><text class="t" x="1032" y="3608">46</text>
<text class="t" x="895" y="3626">B┌</text><text class="t" x="895" y="3718">B└</text><text class="t" x="995" y="3663">2</text>
<text class="t" transform="translate(1057,3670) rotate(-90)">108</text>
<text class="t" x="514" y="3724">100</text>
<text class="t" x="460" y="3741">98</text><text class="t" x="721" y="3741">M*100</text><text class="t" x="988" y="3741">A</text><text class="t" x="1032" y="3741">46</text>
<use href="#bb" x="1153" y="3645" width="71" height="46"/><text class="t" x="1188" y="3632">B-B</text>
<text class="t" transform="translate(1237,3665) rotate(-90)">32.5</text>
</g>
</svg>
</body></html>
